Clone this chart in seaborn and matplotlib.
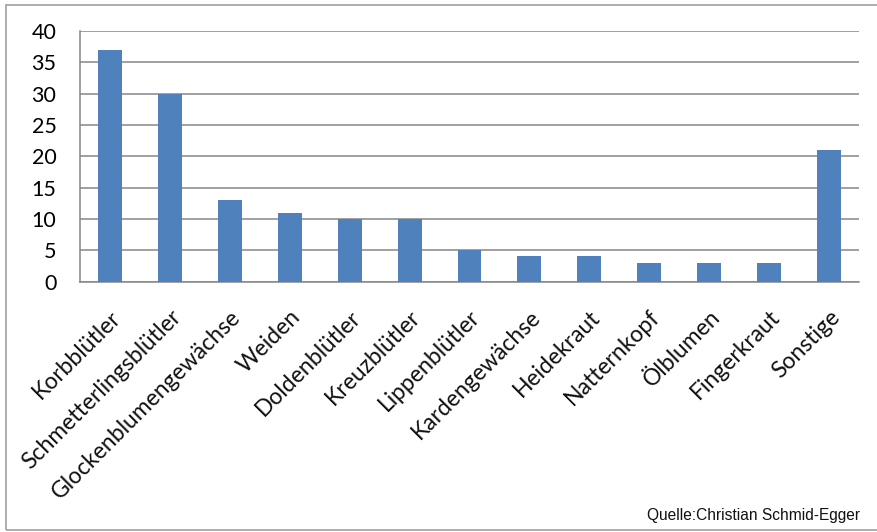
import matplotlib
matplotlib.use("Agg")
import matplotlib.pyplot as plt
import seaborn as sns
import pandas as pd
from matplotlib.patches import Rectangle

categories = ["Korbblütler", "Schmetterlingsblütler", "Glockenblumengewächse", "Weiden",
              "Doldenblütler", "Kreuzblütler", "Lippenblütler", "Kardengewächse",
              "Heidekraut", "Natternkopf", "Ölblumen", "Fingerkraut", "Sonstige"]
values = [37, 30, 13, 11, 10, 10, 5, 4, 4, 3, 3, 3, 21]
yticks = [0, 5, 10, 15, 20, 25, 30, 35, 40]
source = "Quelle:Christian Schmid-Egger"

sns.set_style("white")
plt.rcParams['font.family'] = ['Lato', 'DejaVu Sans']

fig = plt.figure(figsize=(8.77, 5.32), dpi=100)
ax = fig.add_axes([80/877, 1-281.5/532, (859-80)/877, (281.5-31)/532])

df = pd.DataFrame({"cat": categories, "val": values})
sns.barplot(data=df, x="cat", y="val", color="#4F81BD", width=0.4, saturation=1,
            linewidth=0, ax=ax, zorder=3)

ax.set_ylim(0, 40)
ax.set_xlim(-0.5, len(categories) - 0.5)
ax.set_yticks(yticks)
ax.set_yticklabels([str(t) for t in yticks], fontsize=15.5)
ax.yaxis.grid(True, color="#868686", linewidth=1.1)
ax.set_axisbelow(True)
ax.tick_params(axis="y", length=7, width=1, color="#868686", pad=10, labelcolor="#000000")

ax.set_xticks(range(len(categories)))
ax.set_xticklabels(categories, rotation=45, ha="right", rotation_mode="anchor",
                   fontsize=16.5, color="#111111")
ax.tick_params(axis="x", which="major", length=0, pad=18)
ax.set_xticks([i - 0.5 for i in range(len(categories) + 1)], minor=True)
ax.tick_params(axis="x", which="minor", length=7, width=1, color="#868686")

ax.set_xlabel("")
ax.set_ylabel("")
for s in ["top", "right"]:
    ax.spines[s].set_visible(False)
for s in ["left", "bottom"]:
    ax.spines[s].set_color("#868686")
    ax.spines[s].set_linewidth(1.1)

fig.patches.append(Rectangle((6/877, 1-530/532), 1.2, (530-5)/532, transform=fig.transFigure,
                             fill=False, edgecolor="#a0a0a0", linewidth=1.2))

fig.text(860/877, 1-520/532, source, ha="right", va="baseline", fontsize=11.2,
         family=["Liberation Sans", "DejaVu Sans"], color="#111111")

fig.savefig("out.png", dpi=100)
